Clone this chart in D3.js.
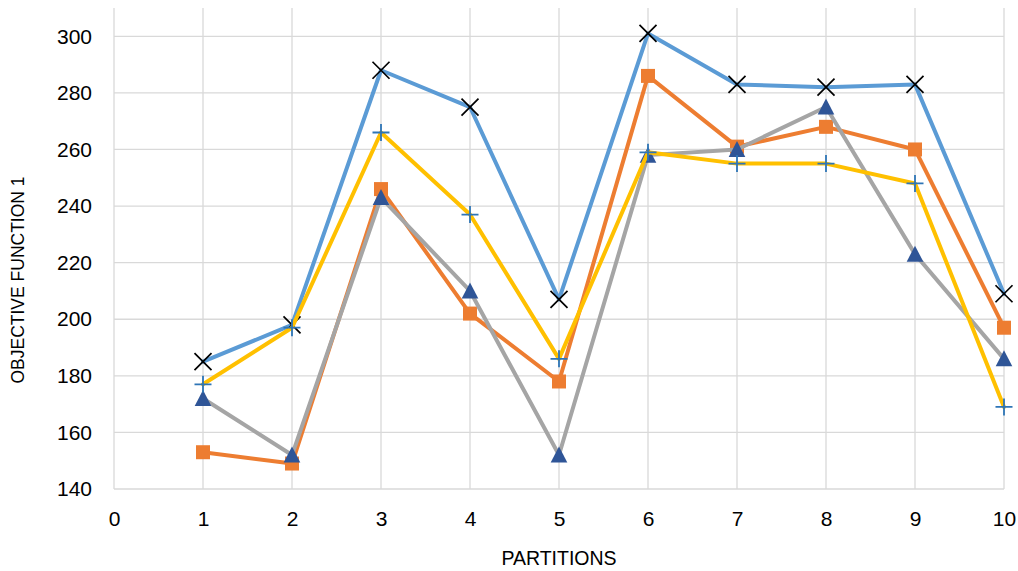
<!DOCTYPE html>
<html>
<head>
<meta charset="utf-8">
<script src="https://cdn.jsdelivr.net/npm/d3@7"></script>
<style>
  html, body { margin: 0; padding: 0; background: #fff; }
  svg { display: block; }
</style>
</head>
<body>
<svg id="chart" width="1018" height="571"></svg>
<script>
const partitions = [1, 2, 3, 4, 5, 6, 7, 8, 9, 10];
const seriesBlue   = [185, 198, 288, 275, 207, 301, 283, 282, 283, 209];
const seriesOrange = [153, 149, 246, 202, 178, 286, 261, 268, 260, 197];
const seriesGray   = [172, 152, 243, 210, 152, 258, 260, 275, 223, 186];
const seriesYellow = [177, 197, 266, 237, 186, 259, 255, 255, 248, 169];
const xTicks = [0, 1, 2, 3, 4, 5, 6, 7, 8, 9, 10];
const yTicks = [140, 160, 180, 200, 220, 240, 260, 280, 300];
const yGridTop = 310;

(function () {
const svg = d3.select("#chart");
const pLeft = 114, pRight = 1004, pTop = 8, pBottom = 489;

const x = d3.scaleLinear().domain([0, 10]).range([pLeft, pRight]);
const y = d3.scaleLinear().domain([140, yGridTop]).range([pBottom, pTop]);

const gridColor = "#D9D9D9";
const font = "'Liberation Sans', Arial, sans-serif";

// grid
const grid = svg.append("g");
grid.selectAll("line.h").data(yTicks).enter().append("line")
  .attr("x1", pLeft).attr("x2", pRight)
  .attr("y1", d => y(d)).attr("y2", d => y(d))
  .attr("stroke", gridColor).attr("stroke-width", 1.3);
grid.selectAll("line.v").data(xTicks).enter().append("line")
  .attr("x1", d => x(d)).attr("x2", d => x(d))
  .attr("y1", y(yGridTop)).attr("y2", pBottom)
  .attr("stroke", gridColor).attr("stroke-width", 1.3);

// axes (labels only)
const yAxis = d3.axisLeft(y).tickValues(yTicks).tickSize(0).tickPadding(22);
const gy = svg.append("g").attr("transform", `translate(${pLeft},0)`).call(yAxis);
gy.select(".domain").remove();
gy.selectAll("text").attr("font-family", font).attr("font-size", 21).attr("fill", "#000");

const xAxis = d3.axisBottom(x).tickValues(xTicks).tickSize(0).tickPadding(22);
const gx = svg.append("g").attr("transform", `translate(0,${pBottom})`).call(xAxis);
gx.select(".domain").remove();
gx.selectAll("text").attr("font-family", font).attr("font-size", 21).attr("fill", "#000");

// titles
svg.append("text")
  .attr("x", 559).attr("y", 565)
  .attr("text-anchor", "middle")
  .attr("font-family", font).attr("font-size", 19.5).attr("fill", "#000")
  .text("PARTITIONS");
svg.append("text")
  .attr("transform", "translate(24,280) rotate(-90)")
  .attr("text-anchor", "middle")
  .attr("font-family", font).attr("font-size", 17.5).attr("fill", "#000")
  .text("OBJECTIVE FUNCTION 1");

const line = d3.line().x((d, i) => x(partitions[i])).y(d => y(d));

const series = [
  { values: seriesBlue,   color: "#5B9BD5", marker: "x" },
  { values: seriesOrange, color: "#ED7D31", marker: "square" },
  { values: seriesGray,   color: "#A5A5A5", marker: "triangle" },
  { values: seriesYellow, color: "#FFC000", marker: "plus" }
];

series.forEach(s => {
  const g = svg.append("g");
  g.append("path").datum(s.values)
    .attr("d", line).attr("fill", "none")
    .attr("stroke", s.color).attr("stroke-width", 4)
    .attr("stroke-linejoin", "round").attr("stroke-linecap", "round");
  const pts = g.selectAll("g.m").data(s.values).enter().append("g")
    .attr("transform", (d, i) => `translate(${x(partitions[i])},${y(d)})`);
  if (s.marker === "x") {
    pts.append("path").attr("d", "M-8.5,-8.5L8.5,8.5M-8.5,8.5L8.5,-8.5")
      .attr("stroke", "#000").attr("stroke-width", 1.7).attr("fill", "none");
  } else if (s.marker === "square") {
    pts.append("rect").attr("x", -7).attr("y", -7).attr("width", 14).attr("height", 14)
      .attr("fill", "#ED7D31");
  } else if (s.marker === "triangle") {
    pts.append("path").attr("d", "M0,-8.5L8.3,7.5L-8.3,7.5Z").attr("fill", "#2F5597");
  } else if (s.marker === "plus") {
    pts.append("path").attr("d", "M-8.5,0L8.5,0M0,-8.5L0,8.5")
      .attr("stroke", "#2E75B6").attr("stroke-width", 1.8).attr("fill", "none");
  }
});
})();
</script>
</body>
</html>
